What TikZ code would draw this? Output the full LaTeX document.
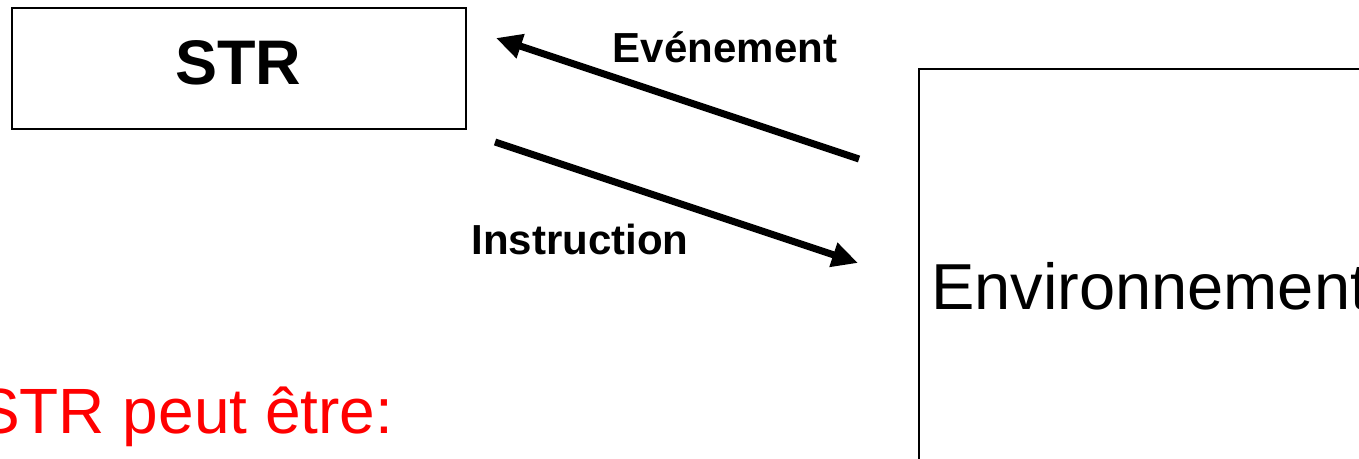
\documentclass[tikz,border=0pt]{standalone}
\usepackage{fontspec}
\setmainfont{Liberation Sans}
\usetikzlibrary{arrows.meta}
\tikzset{
  boxframe/.style={draw=black, line width=1.2pt, inner sep=0pt},
  flow/.style={line width=7pt, -{Triangle[length=26pt,width=24pt]}},
  lbl/.style={inner sep=0pt, font=\bfseries\fontsize{42}{42}\selectfont}
}
\begin{document}
\begin{tikzpicture}[x=1pt,y=-1pt]
\useasboundingbox (0,0) rectangle (1359,458);
\fill[white] (0,0) rectangle (1359,458);
% boxes
\node[boxframe, minimum width=454pt, minimum height=121pt] (strbox) at (239,68.5) {};
\node[inner sep=0pt, anchor=base, font=\bfseries\fontsize{63}{63}\selectfont] (strtxt) at (238,84) {STR};
\node[boxframe, minimum width=481pt, minimum height=431pt] (envbox) at (1159.5,284.5) {};
\node[inner sep=0pt, anchor=base west, font=\fontsize{65}{65}\selectfont] (envtxt) at (931,309) {Environnement};
% arrows
\coordinate (evA) at (859,159);
\coordinate (evB) at (496,38);
\coordinate (inA) at (495,142);
\coordinate (inB) at (858,263);
\draw[flow] (evA) -- (evB);
\draw[flow] (inA) -- (inB);
\node[lbl, anchor=base] (evlbl) at (725,62) {Evénement};
\node[lbl, anchor=base] (inlbl) at (580,254) {Instruction};
% red text
\node[inner sep=0pt, anchor=base west, text={rgb,255:red,255;green,0;blue,0}, font=\fontsize{64}{64}\selectfont] (redtxt) at (-23,433) {STR peut être:};
\end{tikzpicture}
\end{document}
